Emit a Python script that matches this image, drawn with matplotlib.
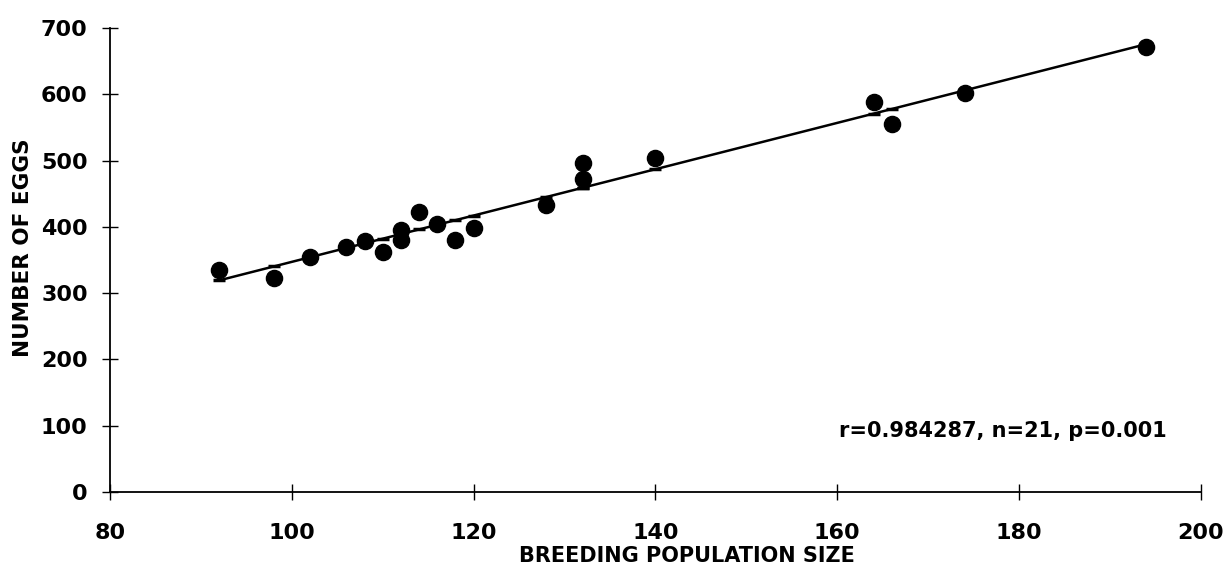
import numpy as np
import matplotlib
matplotlib.use("Agg")
import matplotlib.pyplot as plt

# breeding population size vs number of eggs
pop = [92, 98, 102, 106, 108, 110, 112, 112, 114, 116, 118, 120, 128, 132, 132, 140, 164, 166, 174, 194]
eggs = [335, 323, 354, 370, 379, 362, 395, 380, 422, 404, 380, 398, 433, 496, 472, 504, 588, 555, 602, 671]
stat_text = "r=0.984287, n=21, p=0.001"

plt.rcParams['font.family'] = ['DejaVu Sans']
plt.rcParams['font.weight'] = 'bold'

fig = plt.figure(figsize=(12.3, 5.73), dpi=100)
ax = fig.add_axes([0.0894, 0.1414, 0.887, 0.8098])

x = np.array(pop)
y = np.array(eggs)
slope, icept = np.polyfit(x, y, 1)
fit = slope * x + icept
order = np.argsort(x)
ax.plot(x[order], fit[order], color='black', lw=1.8, zorder=2)
ax.plot(x, fit, linestyle='none', marker='_', markersize=9, mew=2.5, color='black', zorder=2)
ax.scatter(x, y, s=135, color='black', zorder=3)

ax.set_xlim(80, 200)
ax.set_ylim(0, 700)
ax.set_xticks(range(80, 201, 20))
ax.set_yticks(range(0, 701, 100))
for s in ['top', 'right']:
    ax.spines[s].set_visible(False)
for s in ['left', 'bottom']:
    ax.spines[s].set_linewidth(1.3)
ax.tick_params(direction='inout', length=12, width=1, labelsize=16)
ax.tick_params(axis='y', pad=10)
ax.tick_params(axis='x', pad=16)
for lab in ax.get_xticklabels() + ax.get_yticklabels():
    lab.set_fontweight('bold')

ax.set_xlabel('BREEDING POPULATION SIZE', fontsize=15, fontweight='bold')
ax.set_ylabel('NUMBER OF EGGS', fontsize=15.5, fontweight='bold')
ax.xaxis.set_label_coords(0.529, -0.116)
ax.yaxis.set_label_coords(-0.0706, 0.526)
ax.text(0.969, 0.131, stat_text, transform=ax.transAxes, ha='right', va='center',
        fontsize=15, fontweight='bold')

fig.savefig('out.png', dpi=100)
